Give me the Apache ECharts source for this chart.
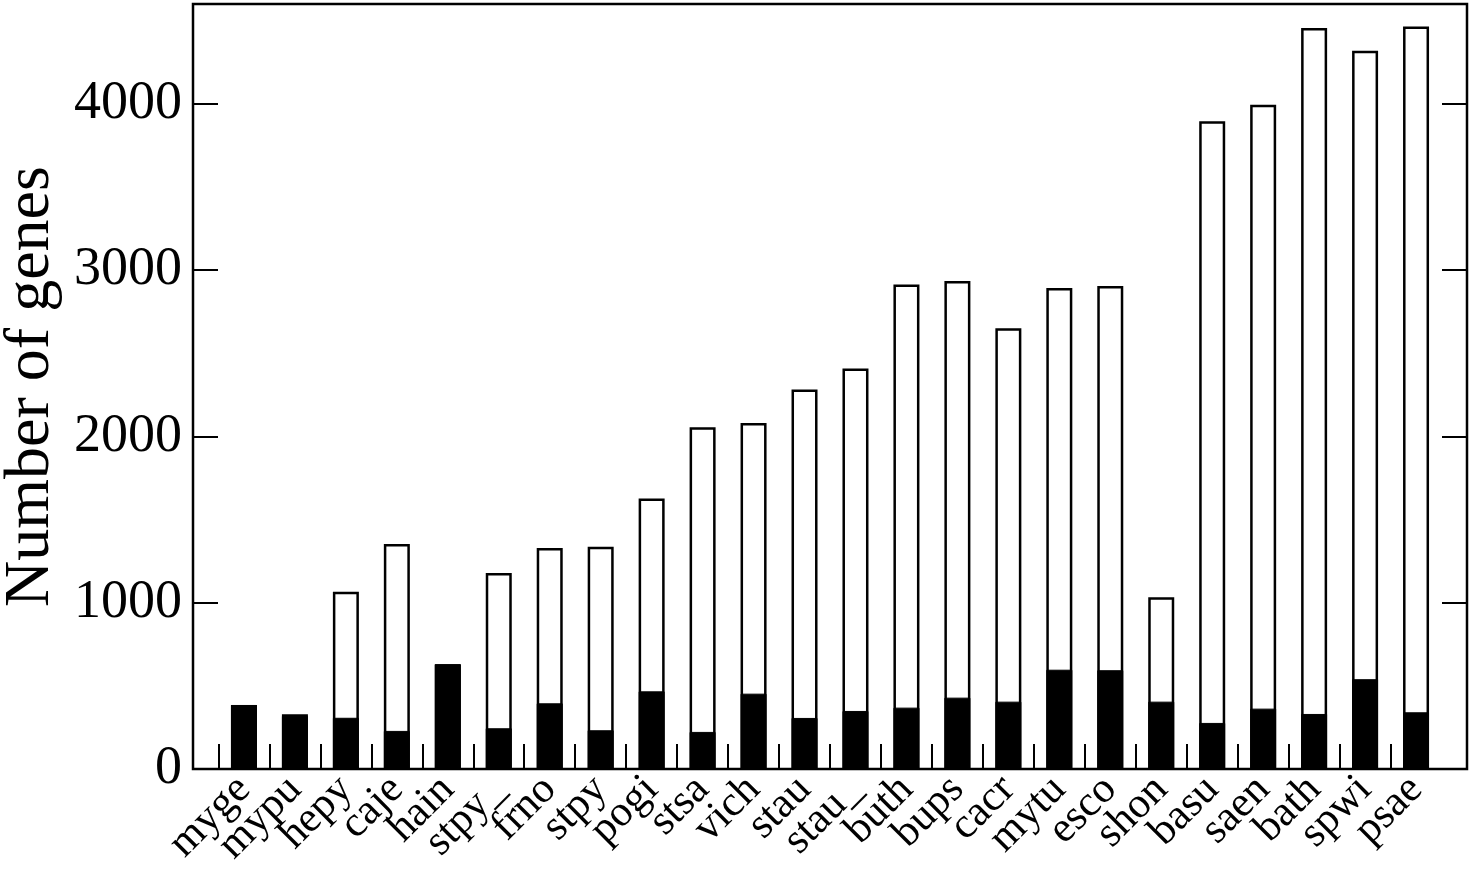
<!DOCTYPE html>
<html>
<head>
<meta charset="utf-8">
<script src="https://cdn.jsdelivr.net/npm/echarts@6/dist/echarts.min.js"></script>
<style>
  html, body { margin: 0; padding: 0; background: #fff; }
  #chart { width: 1473px; height: 869px; }
</style>
</head>
<body>
<div id="chart"></div>
<script>
// genomes, ordered as in the figure
const genomes = [
  "myge", "mypu", "hepy", "caje", "hain", "stpy_", "frno", "stpy",
  "pogi", "stsa", "vich", "stau", "stau_", "buth", "bups", "cacr",
  "mytu", "esco", "shon", "basu", "saen", "bath", "spwi", "psae"
];

// total genes (white bars)
const totalGenes = [
  385, 329, 1066, 1353, 630, 1179, 1329, 1337,
  1626, 2055, 2081, 2282, 2408, 2913, 2935, 2651,
  2893, 2905, 1033, 3895, 3994, 4455, 4319, 4465
];

// subset of genes (black bars)
const subsetGenes = [
  385, 319, 308, 229, 630, 245, 395, 233,
  467, 223, 453, 307, 349, 369, 429, 405,
  597, 594, 405, 277, 363, 331, 540, 341
];

const yTicks = [0, 1000, 2000, 3000, 4000];
const yMax = 4600;

const font = "Liberation Serif";
const chart = echarts.init(document.getElementById("chart"), null, { renderer: "canvas" });

// grid 0: frame + y axes, grid 1: bars + names, grid 2: ticks between bars
const band = 1274 / 25;
const barsLeft = 193 + band / 2;

chart.setOption({
  animation: false,
  backgroundColor: "#ffffff",
  grid: [
    { left: 193, right: 6, top: 4, bottom: 100, outerBoundsMode: "none", containLabel: false,
      show: true, borderColor: "#000", borderWidth: 2.5, backgroundColor: "transparent" },
    { left: barsLeft, right: 1473 - (barsLeft + band * 24), top: 4, bottom: 100, outerBoundsMode: "none", containLabel: false },
    { left: barsLeft, right: 1473 - (barsLeft + band * 23), top: 4, bottom: 100, outerBoundsMode: "none", containLabel: false }
  ],
  xAxis: [
    { gridIndex: 0, type: "value", show: false, min: 0, max: 1 },
    {
      gridIndex: 1,
      type: "category",
      data: genomes,
      boundaryGap: true,
      axisLine: { show: false },
      axisTick: { show: false },
      axisLabel: {
        interval: 0,
        rotate: 45,
        margin: 14,
        fontFamily: font,
        fontSize: 43,
        color: "#000"
      }
    },
    {
      gridIndex: 2,
      type: "category",
      data: genomes.slice(0, 23).map(() => ""),
      boundaryGap: true,
      axisLine: { show: false },
      axisLabel: { show: false },
      axisTick: { show: true, inside: true, length: 25, lineStyle: { color: "#000", width: 2 } }
    }
  ],
  yAxis: [
    {
      gridIndex: 0,
      type: "value",
      min: 0,
      max: yMax,
      interval: 1000,
      name: "Number of genes",
      nameLocation: "middle",
      nameGap: 124,
      nameTextStyle: { fontFamily: font, fontSize: 64, color: "#000" },
      axisLine: { show: false },
      axisTick: { show: true, inside: true, length: 25, lineStyle: { color: "#000", width: 2 } },
      splitLine: { show: false },
      axisLabel: {
        margin: 11,
        fontFamily: font,
        fontSize: 54,
        color: "#000",
        formatter: (v) => (yTicks.includes(v) ? String(v) : "")
      }
    },
    {
      gridIndex: 0,
      type: "value",
      position: "right",
      min: 0,
      max: yMax,
      interval: 1000,
      axisLine: { show: false },
      axisTick: { show: true, inside: true, length: 25, lineStyle: { color: "#000", width: 2 } },
      splitLine: { show: false },
      axisLabel: { show: false }
    },
    { gridIndex: 1, type: "value", min: 0, max: yMax, show: false },
    { gridIndex: 2, type: "value", min: 0, max: yMax, show: false }
  ],
  series: [
    {
      type: "bar",
      xAxisIndex: 1,
      yAxisIndex: 2,
      data: totalGenes,
      barWidth: 26,
      barGap: "-100%",
      itemStyle: { color: "#fff", borderColor: "#000", borderWidth: 2.5 }
    },
    {
      type: "bar",
      xAxisIndex: 1,
      yAxisIndex: 2,
      data: subsetGenes,
      barWidth: 26,
      barGap: "-100%",
      itemStyle: { color: "#000", borderColor: "#000", borderWidth: 1 }
    }
  ]
});
</script>
</body>
</html>
